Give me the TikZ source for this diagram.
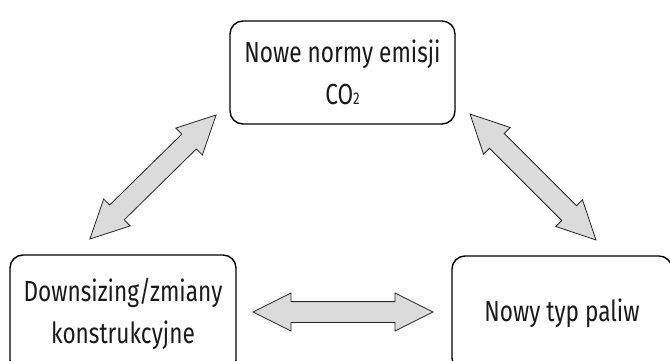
\documentclass[tikz,border=0pt]{standalone}
\usepackage{fontspec}
\setmainfont{Fira Sans}[FakeStretch=0.78]
\usetikzlibrary{shapes.arrows}
\begin{document}
\begin{tikzpicture}[x=1pt, y=-1pt,
  box/.style={draw, line width=1.4pt, rounded corners=13pt, align=center,
    text=black!90, font=\fontsize{29}{42}\selectfont, inner sep=0pt},
  link/.style={double arrow, draw=black!85, fill=gray!28, line width=.8pt,
    inner xsep=0pt, inner ysep=10pt, minimum width=37pt, double arrow head extend=8.5pt,
    double arrow tip angle=53}]
\useasboundingbox (0,0) rectangle (670,361);
\clip (0,0) rectangle (670,361);
\node[box, minimum width=225pt, minimum height=103pt] (norms) at (342.5,72.5) {Nowe normy emisji\\CO{\fontsize{17}{17}\selectfont 2}};
\node[box, minimum width=226pt, minimum height=118pt] (downsizing) at (123,314) {Downsizing/zmiany\\konstrukcyjne};
\node[box, minimum width=220pt, minimum height=115pt] (fuel) at (562,313.5) {Nowy typ paliw};
\node[link, minimum height=177pt, rotate=44.5] (linkleft) at (153,177) {};
\node[link, minimum height=178pt, rotate=-45] (linkright) at (533,177) {};
\node[link, minimum height=180pt] (linkbottom) at (343,312) {};
\end{tikzpicture}
\end{document}
